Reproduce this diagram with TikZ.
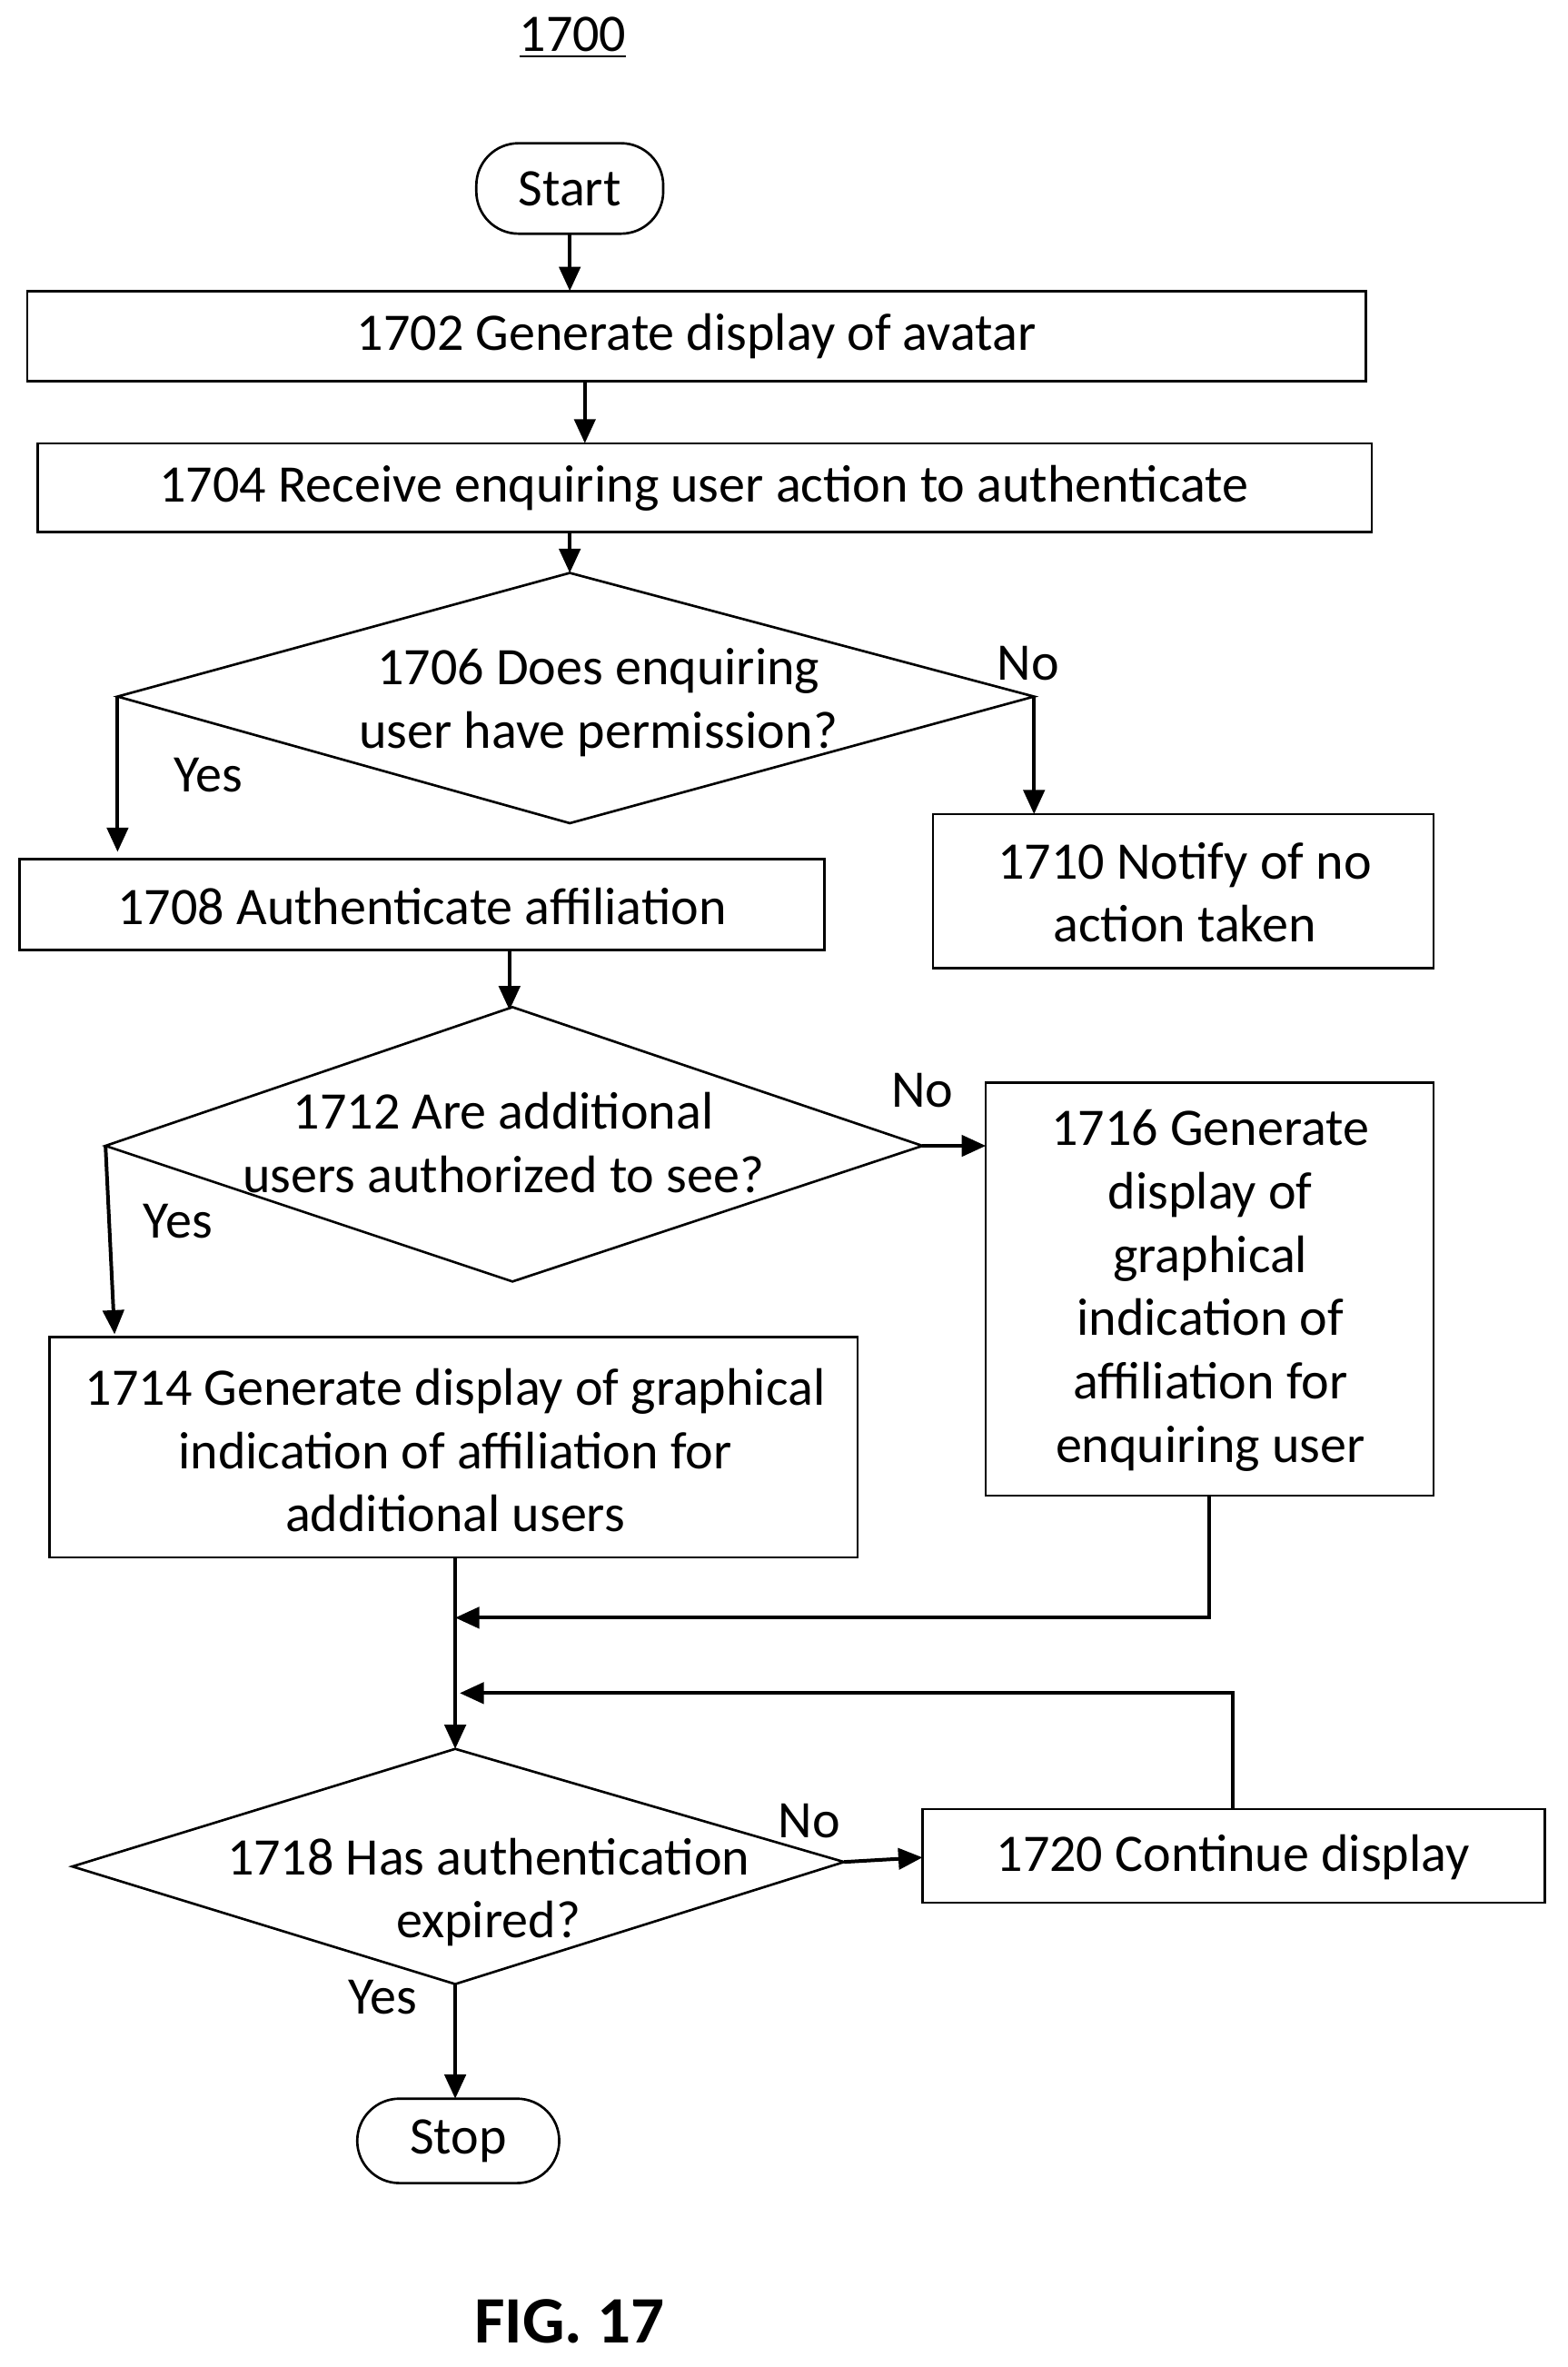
\documentclass[tikz,border=0pt]{standalone}
\usepackage{fontspec}
\setmainfont{Carlito}
\usetikzlibrary{arrows.meta}
\begin{document}
\begin{tikzpicture}[x=0.5pt,y=-0.5pt,
  every node/.style={font=\fontsize{17.5}{21}\selectfont, align=center, inner sep=0pt},
  box/.style={draw, line width=0.8pt},
  term/.style={draw, line width=0.8pt, rounded corners=14pt},
  ar/.style={line width=1.2pt,-{Triangle[length=8pt,width=7pt]}}]
\useasboundingbox (0,0) rectangle (1040,1570);
\node (title) at (380,25) {\underline{1700}};
\draw[term] (316,95) rectangle (440,155);
\node (start) at (378,125) {Start};
\draw[box] (18,193) rectangle (906,253);
\node (n1702) at (462,223) {1702 Generate display of avatar};
\draw[box] (25,294) rectangle (910,353);
\node (n1704) at (467,324) {1704 Receive enquiring user action to authenticate};
\coordinate (d1t) at (378,380); \coordinate (d1l) at (78,462);
\coordinate (d1r) at (686,462); \coordinate (d1b) at (378,546);
\draw[box] (d1t)--(d1r)--(d1b)--(d1l)--cycle;
\node (n1706) at (397,466) {1706 Does enquiring\\user have permission?};
\draw[box] (13,570) rectangle (547,630);
\node (n1708) at (280,601) {1708 Authenticate affiliation};
\draw[box] (619,540) rectangle (951,642);
\node (n1710) at (786,592) {1710 Notify of no\\action taken};
\coordinate (d2t) at (340,668); \coordinate (d2l) at (70,760);
\coordinate (d2r) at (612,760); \coordinate (d2b) at (340,850);
\draw[box] (d2t)--(d2r)--(d2b)--(d2l)--cycle;
\node (n1712) at (334,758) {1712 Are additional\\users authorized to see?};
\draw[box] (33,887) rectangle (569,1033);
\node (n1714) at (302,962) {1714 Generate display of graphical\\indication of affiliation for\\additional users};
\draw[box] (654,718) rectangle (951,992);
\node (n1716) at (803,856) {1716 Generate\\display of\\graphical\\indication of\\affiliation for\\enquiring user};
\coordinate (d3t) at (302,1160); \coordinate (d3l) at (48,1238);
\coordinate (d3r) at (560,1235); \coordinate (d3b) at (302,1316);
\draw[box] (d3t)--(d3r)--(d3b)--(d3l)--cycle;
\node (n1718) at (324,1255) {1718 Has authentication\\expired?};
\draw[box] (612,1200) rectangle (1025,1262);
\node (n1720) at (818,1232) {1720 Continue display};
\draw[term] (237,1392) rectangle (371,1448);
\node (stop) at (304,1420) {Stop};
\node (fig) at (378,1540) {\fontsize{22}{26}\selectfont\bfseries FIG. 17};
\draw[ar] (378,155) -- (378,193);
\draw[ar] (388,253) -- (388,294);
\draw[ar] (378,353) -- (d1t);
\draw[ar] (d1l) -- (78,565);
\node (y1) at (138,514) {Yes};
\draw[ar] (d1r) -- (686,540);
\node (no1) at (682,440) {No};
\draw[ar] (338,630) -- (338,670);
\draw[ar] (d2l) -- (76,885);
\node (y2) at (118,810) {Yes};
\draw[ar] (d2r) -- (654,760);
\node (no2) at (612,723) {No};
\draw[ar] (302,1033) -- (d3t);
\draw[ar] (802,992) -- (802,1073) -- (302,1073);
\draw[ar] (818,1200) -- (818,1123) -- (305,1123);
\draw[ar] (d3r) -- (612,1232);
\node (no3) at (537,1208) {No};
\draw[ar] (d3b) -- (302,1392);
\node (y3) at (254,1325) {Yes};
\end{tikzpicture}
\end{document}
